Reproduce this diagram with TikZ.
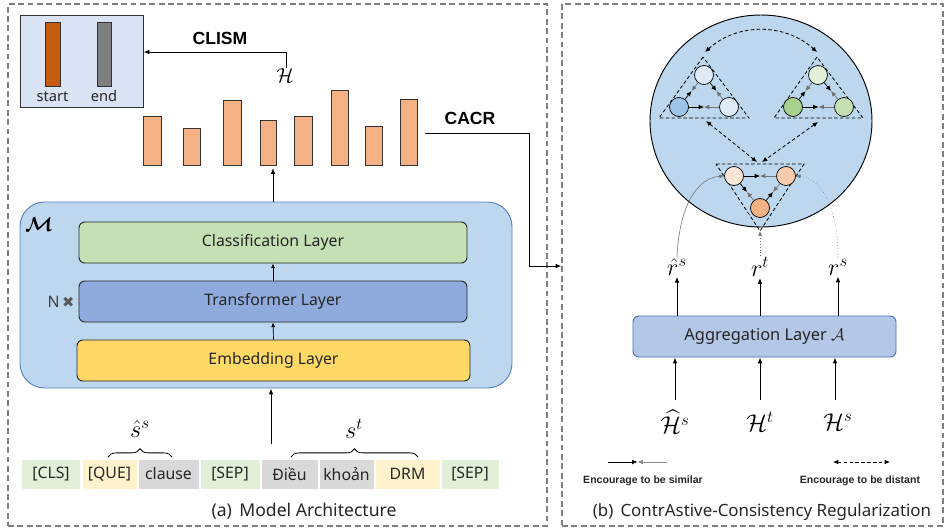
\documentclass[tikz,border=0pt]{standalone}
\usepackage{amsmath}
\usepackage{bm}
\usepackage{fontspec}
\setmainfont{Noto Sans}
\newfontfamily\symfont{DejaVu Sans}
\newfontfamily\bsans{Liberation Sans}
\usetikzlibrary{arrows.meta,calc,decorations.pathreplacing,shapes.geometric}

\definecolor{framec}{HTML}{7F7F7F}
\definecolor{sebg}{HTML}{DAE3F3}
\definecolor{startc}{HTML}{C55A11}
\definecolor{endc}{HTML}{7F7F7F}
\definecolor{barc}{HTML}{F4B183}
\definecolor{mbg}{HTML}{BDD7EE}
\definecolor{mborder}{HTML}{5B7FBF}
\definecolor{clsc}{HTML}{C5E0B4}
\definecolor{trc}{HTML}{8FAADC}
\definecolor{embc}{HTML}{FFD966}
\definecolor{tokg}{HTML}{E2F0D9}
\definecolor{toky}{HTML}{FFF2CC}
\definecolor{tokgr}{HTML}{D9D9D9}
\definecolor{aggc}{HTML}{B4C7E7}
\definecolor{aggb}{HTML}{4A6FB5}
\definecolor{cba}{HTML}{DEEBF7}
\definecolor{cbb}{HTML}{9DC3E6}
\definecolor{cga}{HTML}{E2F0D9}
\definecolor{cgb}{HTML}{A9D18E}
\definecolor{cgc}{HTML}{C5E0B4}
\definecolor{coa}{HTML}{FBE5D6}
\definecolor{cob}{HTML}{F8CBAD}
\definecolor{coc}{HTML}{F4B183}
\definecolor{textc}{HTML}{262626}

\newcommand\fsz[1]{\fontsize{#1}{#1}\selectfont}

\tikzset{
  wh/.style 2 args={minimum width=#1*0.03cm, minimum height=#2*0.03cm},
  panel/.style={draw=framec, line width=1.1pt, dash pattern=on 5pt off 3pt, inner sep=0pt},
  sebox/.style={draw=black!80, fill=sebg, line width=0.8pt, inner sep=0pt},
  colbar/.style={draw=black!80, line width=0.8pt, inner sep=0pt},
  hbar/.style={draw=black!80, fill=barc, line width=0.8pt, inner sep=0pt},
  mbox/.style={draw=mborder, fill=mbg, line width=0.8pt, rounded corners=21pt, inner sep=0pt},
  layer/.style={draw=black!85, line width=0.8pt, rounded corners=5pt, inner sep=0pt, font=\fsz{13.5}, text=textc},
  token/.style={inner sep=0pt, wh={#1}{29}, font=\fsz{13.5}, text=textc},
  aggbox/.style={draw=aggb, fill=aggc, line width=0.8pt, rounded corners=5pt, inner sep=0pt, font=\fsz{14}, text=textc},
  ball/.style={draw=black, fill=mbg, line width=0.8pt, ellipse, inner sep=0pt},
  dot/.style={circle, draw=black, line width=0.6pt, minimum size=19*0.03cm, inner sep=0pt},
  tri/.style={draw=black, line width=0.7pt, dash pattern=on 3pt off 2pt},
  conn/.style={draw=black, line width=0.8pt, -{Latex[length=5pt,width=4pt]}},
  thinconn/.style={draw=black, line width=0.6pt, -{Latex[length=4pt,width=3.5pt]}},
  simarr/.style={line width=0.6pt, -{Latex[length=4.5pt,width=4pt]}},
  distarr/.style={draw=black, line width=0.7pt, dash pattern=on 3pt off 2pt, {Latex[length=4.5pt,width=4pt]}-{Latex[length=4.5pt,width=4pt]}},
  feed/.style={draw=black!55, line width=0.5pt, -{Latex[length=4pt,width=3.5pt]}},
  mathlbl/.style={inner sep=1pt, font=\fsz{22}},
  headlbl/.style={font=\bsans\bfseries\fsz{15}},
  legendlbl/.style={font=\bsans\bfseries\fsz{9}, text=textc},
  caption/.style={font=\fsz{15}, text=textc},
}

\newcommand\simpair[2]{%
  \draw[simarr, black] (#1) -- ($(#1)!0.5!(#2)$);
  \draw[simarr, black!55] (#2) -- ($(#1)!0.5!(#2)$);}

\begin{document}
\begin{tikzpicture}[x=0.03cm, y=-0.03cm]
\useasboundingbox (0,0) rectangle (945,529);

% the two panels
\node[panel, wh={539}{522}] (pa) at (277.5,265) {};
\node[panel, wh={381}{522}] (pb) at (752.5,265) {};

% ---------- (a) model architecture ----------
% start / end output box
\node[sebox, wh={123}{92}] (se) at (81.5,61) {};
\node[colbar, fill=startc, wh={15}{64}] (sbar) at (52.5,54) {};
\node[colbar, fill=endc, wh={14}{64}] (ebar) at (104,54) {};
\node[font=\fsz{12.5}, text=textc] (slbl) at (52.5,96.5) {start};
\node[font=\fsz{12.5}, text=textc] (elbl) at (104,96.5) {end};

\node[headlbl] (clism) at (220,38) {CLISM};
\node[inner sep=1pt, font=\fsz{19}] (Hl) at (285,76) {$\mathcal{H}$};
\coordinate (clismturn) at (286,52);
\draw[conn] (Hl.north -| clismturn) -- (clismturn) -- (clismturn -| se.east);

% hidden-state bars
\foreach \i/\cx/\w/\h in {1/152/18/49, 2/191.5/17/37, 3/232/18/65, 4/268/16/45,
                          5/303/18/49, 6/339.5/17/75, 7/373.5/17/39, 8/408.5/17/66}
  \node[hbar, anchor=south, wh={\w}{\h}] (bar\i) at (\cx,166) {};

% CACR link to the right panel
\node[headlbl] (cacr) at (470,118) {CACR};
\coordinate (cacrA) at (425,133);
\coordinate (cacrB) at (529,133);
\coordinate (cacrC) at (529,266);
\draw[conn] (cacrA) -- (cacrB) -- (cacrC) -- (cacrC -| pb.west);

% encoder M
\node[mbox, wh={492}{186}] (M) at (266,295) {};
\node[inner sep=0pt, font=\fsz{18}] (Mlbl) at (39,225) {$\bm{\mathcal{M}}$};
\node[layer, fill=clsc, wh={388}{41}] (cls) at (273,242.5) {Classification Layer};
\node[layer, fill=trc, wh={388}{41}] (trf) at (273,301.5) {Transformer Layer};
\node[layer, fill=embc, wh={393}{41}] (emb) at (273.5,360.5) {Embedding Layer};
\node[font=\fsz{13.5}, text=black!75, inner sep=0pt] (nx) at (61,302) {N\,{\symfont\fsz{12.5}\textcolor{black!65}{✖}}};
\draw[thinconn] (emb.north) -- (trf.south);
\draw[thinconn] (trf.north) -- (cls.south);
\draw[conn] (M.north -| cls.north) -- ([yshift=-0.06cm]bar4.south -| cls.north);

% input tokens
\node[token=58, fill=tokg]  (t1) at (51,474) {[CLS]};
\node[token=54, fill=toky]  (t2) at (109.5,474) {[QUE]};
\node[token=60, fill=tokgr] (t3) at (168.5,474) {clause};
\node[token=59, fill=tokg]  (t4) at (230,474) {[SEP]};
\node[token=56, fill=tokgr] (t5) at (289.5,474) {Điều};
\node[token=54, fill=tokgr] (t6) at (346.5,474) {khoản};
\node[token=64, fill=toky]  (t7) at (407.5,474) {DRM};
\node[token=57, fill=tokg]  (t8) at (470,474) {[SEP]};

\coordinate (tokin) at (271,444);
\draw[conn] (tokin) -- (tokin |- M.south);

% braces over the two sentences
\coordinate (bra) at (108,457);
\coordinate (brb) at (172,457);
\coordinate (brc) at (291,457);
\coordinate (brd) at (418,457);
\draw[line width=0.7pt, decorate, decoration={brace, amplitude=7pt}] (bra) -- (brb);
\draw[line width=0.7pt, decorate, decoration={brace, amplitude=7pt}] (brc) -- (brd);
\node[mathlbl, font=\fsz{20}] (shs) at (140,429) {$\hat{s}^{s}$};
\node[mathlbl, font=\fsz{20}] (st) at (354,429) {$s^{t}$};

\node[caption] (capa) at (304,511) {(a)\, Model Architecture};

% ---------- (b) contrastive-consistency regularization ----------
\node[ball, wh={222}{212}] (ballnode) at (761,121) {};

% triangle outlines
\coordinate (lA) at (703,57);  \coordinate (lB) at (659,118); \coordinate (lC) at (749,118);
\coordinate (rA) at (817,57);  \coordinate (rB) at (774,118); \coordinate (rC) at (863,118);
\coordinate (bA) at (716,164); \coordinate (bB) at (804,164); \coordinate (bC) at (760,231);
\draw[tri] (lA) -- (lB) -- (lC) -- cycle;
\draw[tri] (rA) -- (rB) -- (rC) -- cycle;
\draw[tri] (bA) -- (bB) -- (bC) -- cycle;

% representation nodes
\node[dot, fill=cba] (lt) at (704,75) {};
\node[dot, fill=cbb] (ll) at (679,107) {};
\node[dot, fill=cba] (lr) at (729,107) {};
\node[dot, fill=cga] (rt) at (818,75) {};
\node[dot, fill=cgb] (rl) at (793,107) {};
\node[dot, fill=cgc] (rr) at (844,107) {};
\node[dot, fill=coa] (bl) at (734,176) {};
\node[dot, fill=cob] (br) at (786,176) {};
\node[dot, fill=coc] (bb) at (760,208) {};

\simpair{ll}{lt}
\simpair{lt}{lr}
\simpair{ll}{lr}
\simpair{rl}{rt}
\simpair{rt}{rr}
\simpair{rl}{rr}
\simpair{bl}{br}
\simpair{bl}{bb}
\simpair{bb}{br}

% pushing the groups apart
\coordinate (dl) at (705,52);
\coordinate (dr) at (817,52);
\draw[distarr] (dl) to[bend left=42] (dr);
\coordinate (lbase) at (706,121);
\coordinate (rbase) at (818,122);
\coordinate (btop1) at (757,162);
\coordinate (btop2) at (762,162);
\draw[distarr] (lbase) -- (btop1);
\draw[distarr] (rbase) -- (btop2);

% pooled representations
\node[mathlbl] (rhs) at (677,267) {$\hat{r}^{s}$};
\node[mathlbl] (rtt) at (760,267) {$r^{t}$};
\node[mathlbl] (rss) at (838,267) {$r^{s}$};
\draw[feed] (rhs.north) .. controls (679,210) and (695,178) .. (bl.west);
\draw[feed, dotted] (rtt.north) -- (bC);
\draw[feed, dotted] (rss.north) .. controls (838,208) and (822,178) .. (br.east);

% aggregation layer
\node[aggbox, wh={263}{41}] (agg) at (764.5,336.5) {Aggregation Layer $\mathcal{A}$};
\draw[conn] (agg.north -| rhs) -- (rhs.south);
\draw[conn] (agg.north -| rtt) -- (rtt.south);
\draw[conn] (agg.north -| rss) -- (rss.south);

\node[mathlbl, font=\fsz{21}] (hhs) at (675,422) {$\widehat{\mathcal{H}}^{s}$};
\node[mathlbl, font=\fsz{21}] (hht) at (760,422) {$\mathcal{H}^{t}$};
\node[mathlbl, font=\fsz{21}] (hhss) at (838,422) {$\mathcal{H}^{s}$};
\coordinate (hin1) at (675,400);
\coordinate (hin2) at (760,400);
\coordinate (hin3) at (835,400);
\draw[conn] (hin1) -- (hin1 |- agg.south);
\draw[conn] (hin2) -- (hin2 |- agg.south);
\draw[conn] (hin3) -- (hin3 |- agg.south);

% legend
\coordinate (simA) at (608,462);
\coordinate (simB) at (667,462);
\draw[simarr, black] (simA) -- ($(simA)!0.5!(simB)$);
\draw[simarr, black!45] (simB) -- ($(simA)!0.5!(simB)$);
\node[legendlbl] (simlbl) at (643,481) {Encourage to be similar};
\coordinate (disA) at (833,462);
\coordinate (disB) at (890,462);
\draw[distarr] (disA) -- (disB);
\node[legendlbl] (dislbl) at (860,481) {Encourage to be distant};

\node[caption, font=\fsz{14.4}] (capb) at (762,512) {(b)\, ContrAstive-Consistency Regularization};
\end{tikzpicture}
\end{document}
